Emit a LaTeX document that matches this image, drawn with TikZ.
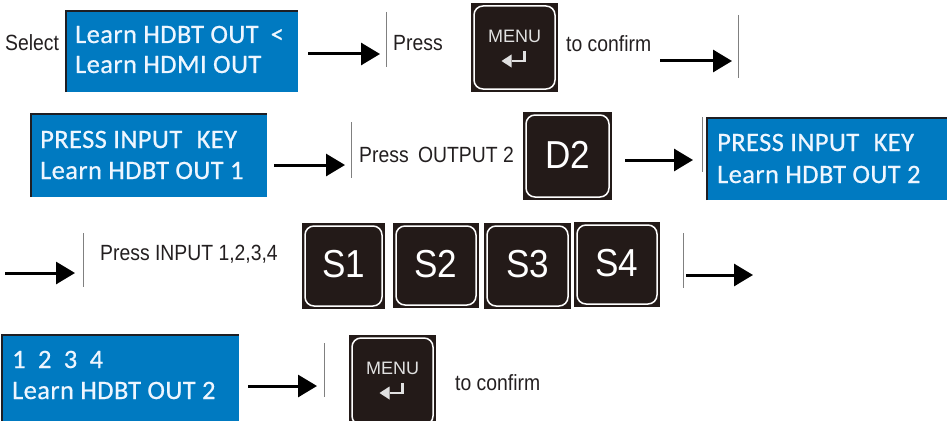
\documentclass[tikz,border=0pt]{standalone}
\usepackage{fontspec}
\setmainfont{Liberation Sans}
\newfontfamily\lblfont[FakeStretch=0.88]{Liberation Sans}
\newfontfamily\keyfont[FakeStretch=0.9]{Liberation Sans}
\newfontfamily\lcdfont[LetterSpace=1.5, FakeBold=0.6]{Carlito}
\usetikzlibrary{arrows.meta}
\definecolor{lcdblue}{RGB}{0,122,193}
\definecolor{lcdedge}{RGB}{30,30,35}
\definecolor{keydark}{RGB}{35,26,24}
\definecolor{inkgray}{RGB}{35,31,32}
\definecolor{lcdtext}{RGB}{238,246,255}
\definecolor{symgray}{RGB}{225,225,225}
\tikzset{
  lbl/.style={anchor=base west, inner sep=0pt, text=inkgray, font=\lblfont\fontsize{22}{26}\selectfont},
  lcdline/.style={anchor=base west, inner sep=0pt, text=lcdtext, font=\lcdfont\fontsize{26.5}{30}\selectfont},
  flow/.style={line width=3pt, -{Triangle[length=19pt,width=22pt]}, black},
  sepline/.style={line width=0.8pt, gray},
  keyrim/.style={draw=white, line width=1.5pt, rounded corners=9pt},
  keylbl/.style={anchor=base, inner sep=0pt, text=white, font=\keyfont\fontsize{39}{44}\selectfont},
  menulbl/.style={anchor=base, inner sep=0pt, text=symgray, font=\fontsize{18}{20}\selectfont},
}
\newcommand\lcdbox[4]{%
  \fill[lcdblue] (#1,#2) rectangle (#3,#4);
  \draw[lcdedge, line width=1.5pt] (#1,#4) -- (#1,#2) -- (#3,#2);
}
\newcommand\keybg[4]{%
  \fill[keydark] (#1,#2) rectangle (#3,#4);
  \draw[keyrim] (#1+3,#2+3) rectangle (#3-3,#4-3);
}
\newcommand\retsym[2]{%
  \draw[symgray, line width=2.8pt] (#1+10,#2+48) -- (#1+10,#2+58) -- (#1-3,#2+58);
  \fill[symgray] (#1-3,#2+51.5) -- (#1-13,#2+58) -- (#1-3,#2+64.5) -- cycle;
}
\begin{document}
\begin{tikzpicture}[x=1pt,y=-1pt]
\useasboundingbox (0,0) rectangle (947,420);
\fill[white] (0,0) rectangle (947,420);

% ---------- row 1 ----------
\node[lbl] (select) at (5,51) {Select};
\lcdbox{66}{11}{298}{92}
\node[lcdline] (l1a) at (75,43) {Learn HDBT OUT\hspace{12pt}<};
\node[lcdline] (l1b) at (75,73) {Learn HDMI OUT};
\coordinate (a1s) at (308,54); \coordinate (a1e) at (380,54);
\draw[flow] (a1s) -- (a1e);
\coordinate (v1t) at (386,12); \coordinate (v1b) at (386,67);
\draw[sepline] (v1t) -- (v1b);
\node[lbl] (press1) at (393,51) {Press};
\keybg{471}{3}{558}{92}
\node[menulbl] (menu1) at (514.5,42) {MENU};
\retsym{514.5}{3}
\node[lbl] (conf1) at (566,52) {to confirm};
\coordinate (a2s) at (660,61); \coordinate (a2e) at (732,61);
\draw[flow] (a2s) -- (a2e);
\coordinate (v2t) at (738,15); \coordinate (v2b) at (738,78);
\draw[sepline] (v2t) -- (v2b);

% ---------- row 2 ----------
\lcdbox{31}{114}{267}{197}
\node[lcdline] (l2a) at (40,148) {PRESS INPUT\hspace{8pt} KEY};
\node[lcdline] (l2b) at (40,179) {Learn HDBT OUT 1};
\coordinate (a3s) at (274,165); \coordinate (a3e) at (345,165);
\draw[flow] (a3s) -- (a3e);
\coordinate (v3t) at (351,122); \coordinate (v3b) at (351,178);
\draw[sepline] (v3t) -- (v3b);
\node[lbl] (press2) at (359,162) {Press\hspace{4pt} OUTPUT 2};
\keybg{523}{112}{612}{200}
\node[keylbl] (d2) at (567.5,168) {D2};
\coordinate (a4s) at (625,160); \coordinate (a4e) at (693,160);
\draw[flow] (a4s) -- (a4e);
\coordinate (v4t) at (702,117); \coordinate (v4b) at (702,172);
\draw[sepline] (v4t) -- (v4b);
\lcdbox{707}{118}{950}{200}
\node[lcdline] (l3a) at (717,151) {PRESS INPUT\hspace{8pt} KEY};
\node[lcdline] (l3b) at (717,183) {Learn HDBT OUT 2};

% ---------- row 3 ----------
\coordinate (a5s) at (5,273); \coordinate (a5e) at (75,273);
\draw[flow] (a5s) -- (a5e);
\coordinate (v5t) at (83,233); \coordinate (v5b) at (83,287);
\draw[sepline] (v5t) -- (v5b);
\node[lbl] (press3) at (100,260) {Press INPUT 1,2,3,4};
\keybg{302}{223}{385}{309}
\node[keylbl] (s1) at (343.5,277) {S1};
\keybg{393}{223}{479}{308}
\node[keylbl] (s2) at (436,277) {S2};
\keybg{484}{223}{571}{309}
\node[keylbl] (s3) at (527.5,277) {S3};
\keybg{574}{222}{660}{307}
\node[keylbl] (s4) at (617,276) {S4};
\coordinate (v6t) at (683,233); \coordinate (v6b) at (683,288);
\draw[sepline] (v6t) -- (v6b);
\coordinate (a6s) at (686,275); \coordinate (a6e) at (753,275);
\draw[flow] (a6s) -- (a6e);

% ---------- row 4 ----------
\lcdbox{2}{335}{239}{430}
\node[lcdline] (l4a) at (12,368) {1\hspace{6pt} 2\hspace{6pt} 3\hspace{6pt} 4};
\node[lcdline] (l4b) at (12,399) {Learn HDBT OUT 2};
\coordinate (a7s) at (248,386); \coordinate (a7e) at (317,386);
\draw[flow] (a7s) -- (a7e);
\coordinate (v7t) at (324,343); \coordinate (v7b) at (324,397);
\draw[sepline] (v7t) -- (v7b);
\keybg{349}{335}{436}{428}
\node[menulbl] (menu2) at (392.5,374) {MENU};
\retsym{392.5}{335}
\node[lbl] (conf2) at (455,390) {to confirm};
\end{tikzpicture}
\end{document}
